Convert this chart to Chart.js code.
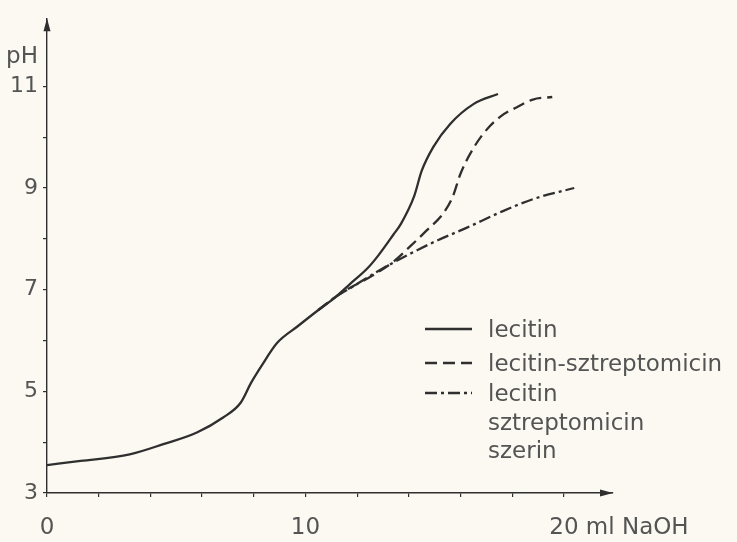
<!DOCTYPE html>
<html>
<head>
<meta charset="utf-8">
<script src="https://cdn.jsdelivr.net/npm/chart.js@4"></script>
<style>
  html, body { margin: 0; padding: 0; background: #fbf9f1; }
  #wrap { width: 737px; height: 542px; }
  canvas { display: block; }
</style>
</head>
<body>
<div id="wrap"><canvas id="chart" width="737" height="542"></canvas></div>
<script>
// Titration curves: pH against added NaOH (ml)
const lecitinX = [0, 1.3, 3.2, 4.5, 5.8, 6.8, 7.5, 7.9, 8.3, 8.9, 9.7, 10.5, 11.2, 11.7, 12.4, 12.8, 13.4, 13.7, 14.2, 14.5, 14.95, 15.6, 16.5, 17.45];
const lecitinY = [3.55, 3.63, 3.76, 3.96, 4.19, 4.48, 4.78, 5.17, 5.5, 5.95, 6.28, 6.6, 6.87, 7.1, 7.42, 7.66, 8.08, 8.3, 8.83, 9.34, 9.81, 10.26, 10.65, 10.85];

const sztrepX = [10.5, 11.2, 11.7, 12.4, 13.4, 14.05, 14.7, 15.33, 15.7, 16.0, 16.37, 16.87, 17.53, 18.18, 18.8, 19.55];
const sztrepY = [6.6, 6.87, 7.03, 7.22, 7.55, 7.85, 8.17, 8.5, 8.83, 9.28, 9.67, 10.06, 10.4, 10.59, 10.74, 10.79];

const szerinX = [10.5, 11.2, 11.7, 13.0, 14.94, 16.25, 17.53, 18.8, 20.4];
const szerinY = [6.6, 6.87, 7.02, 7.42, 7.93, 8.22, 8.52, 8.78, 9.0];

const xTickValues = [0, 2, 4, 6, 8, 10, 12, 14, 16, 18, 20];
const xTickLabels = { 0: '0', 10: '10', 20: '20' };
const yTickValues = [3, 4, 5, 6, 7, 8, 9, 10, 11];
const yTickLabels = { 3: '3', 5: '5', 7: '7', 9: '9', 11: '11' };

const xUnit = 'ml NaOH';
const yTitle = 'pH';
const legendLines = [
  ['lecitin'],
  ['lecitin-sztreptomicin'],
  ['lecitin', 'sztreptomicin', 'szerin']
];

const INK = '#2f2f2f';
const TEXT = '#545454';
const FONT_FAMILY = '"DejaVu Sans", sans-serif';
const BG = '#fbf9f1';

function toPoints(xs, ys) {
  return xs.map((x, i) => ({ x: x, y: ys[i] }));
}

const dashStyles = [[], [12, 6], [12, 4, 3, 4]];

const datasets = [
  { xs: lecitinX, ys: lecitinY },
  { xs: sztrepX, ys: sztrepY },
  { xs: szerinX, ys: szerinY }
].map((s, i) => ({
  label: legendLines[i].join(' '),
  data: toPoints(s.xs, s.ys),
  borderColor: INK,
  borderWidth: 2.3,
  borderDash: dashStyles[i],
  pointRadius: 0,
  fill: false,
  cubicInterpolationMode: 'monotone',
  borderCapStyle: 'butt'
}));

// Paper background, axis arrowheads, pH title, unit label and line-style legend
const decorations = {
  id: 'decorations',
  beforeDraw(chart) {
    const ctx = chart.ctx;
    ctx.save();
    ctx.fillStyle = BG;
    ctx.fillRect(0, 0, chart.width, chart.height);
    ctx.restore();
  },
  afterDraw(chart) {
    const ctx = chart.ctx;
    const area = chart.chartArea;
    const xs = chart.scales.x;
    const ys = chart.scales.y;
    ctx.save();

    // arrowheads at the ends of both axes
    ctx.fillStyle = INK;
    ctx.beginPath();
    ctx.moveTo(area.left, area.top);
    ctx.lineTo(area.left - 3.5, area.top + 13);
    ctx.lineTo(area.left + 3.5, area.top + 13);
    ctx.closePath();
    ctx.fill();
    ctx.beginPath();
    ctx.moveTo(area.right, area.bottom);
    ctx.lineTo(area.right - 13, area.bottom - 3.5);
    ctx.lineTo(area.right - 13, area.bottom + 3.5);
    ctx.closePath();
    ctx.fill();

    // pH title above the y tick labels
    ctx.fillStyle = TEXT;
    ctx.font = '23px ' + FONT_FAMILY;
    ctx.textAlign = 'right';
    ctx.textBaseline = 'alphabetic';
    ctx.fillText(yTitle, area.left - 9, ys.getPixelForValue(11.45));

    // unit written after the last x tick label
    const items = xs.getLabelItems();
    const last = items.find(it => it.label === xTickLabels[20]);
    if (last) {
      ctx.font = '23px ' + FONT_FAMILY;
      ctx.textAlign = 'left';
      ctx.textBaseline = last.options.textBaseline;
      const [tx, ty] = last.options.translation;
      const w = ctx.measureText(xTickLabels[20]).width;
      ctx.fillText(xUnit, tx + w / 2 + ctx.measureText(' ').width, ty + (last.textOffset || 0));
    }

    // legend
    const rowBaselines = [[337], [371], [401, 430, 458]];
    const lineX0 = 425, lineX1 = 472, textX = 488;
    ctx.font = '23px ' + FONT_FAMILY;
    ctx.textAlign = 'left';
    ctx.textBaseline = 'alphabetic';
    chart.data.datasets.forEach((ds, i) => {
      const bases = rowBaselines[i];
      ctx.strokeStyle = ds.borderColor;
      ctx.lineWidth = ds.borderWidth;
      ctx.setLineDash(ds.borderDash);
      ctx.beginPath();
      ctx.moveTo(lineX0, bases[0] - 8);
      ctx.lineTo(lineX1, bases[0] - 8);
      ctx.stroke();
      ctx.setLineDash([]);
      ctx.fillStyle = TEXT;
      legendLines[i].forEach((line, j) => {
        ctx.fillText(line, textX, bases[j]);
      });
    });
    ctx.restore();
  }
};

new Chart(document.getElementById('chart'), {
  type: 'line',
  data: { datasets: datasets },
  options: {
    responsive: false,
    animation: false,
    devicePixelRatio: 1,
    layout: { padding: { top: 13, right: 124, left: 0, bottom: 0 } },
    plugins: {
      legend: { display: false },
      tooltip: { enabled: false },
      title: { display: false }
    },
    scales: {
      x: {
        type: 'linear',
        min: 0,
        max: 21.9,
        afterBuildTicks(scale) {
          scale.ticks = xTickValues.map(v => ({ value: v }));
        },
        afterFit(scale) { scale.height = 49; },
        ticks: {
          autoSkip: false,
          maxRotation: 0,
          padding: 17,
          color: TEXT,
          font: { family: FONT_FAMILY, size: 23 },
          callback: v => (xTickLabels[v] !== undefined ? xTickLabels[v] : '')
        },
        grid: {
          drawOnChartArea: false,
          drawTicks: true,
          tickLength: 4,
          color: INK,
          lineWidth: 1.2
        },
        border: { display: true, color: INK, width: 1.4 }
      },
      y: {
        type: 'linear',
        min: 3,
        max: 12.34,
        afterBuildTicks(scale) {
          scale.ticks = yTickValues.map(v => ({ value: v }));
        },
        afterFit(scale) { scale.width = 47; },
        ticks: {
          autoSkip: false,
          padding: 5,
          color: TEXT,
          font: { family: FONT_FAMILY, size: 22 },
          callback: v => (yTickLabels[v] !== undefined ? yTickLabels[v] : '')
        },
        grid: {
          drawOnChartArea: false,
          drawTicks: true,
          tickLength: 4,
          color: INK,
          lineWidth: 1.2
        },
        border: { display: true, color: INK, width: 1.4 }
      }
    }
  },
  plugins: [decorations]
});
</script>
</body>
</html>
